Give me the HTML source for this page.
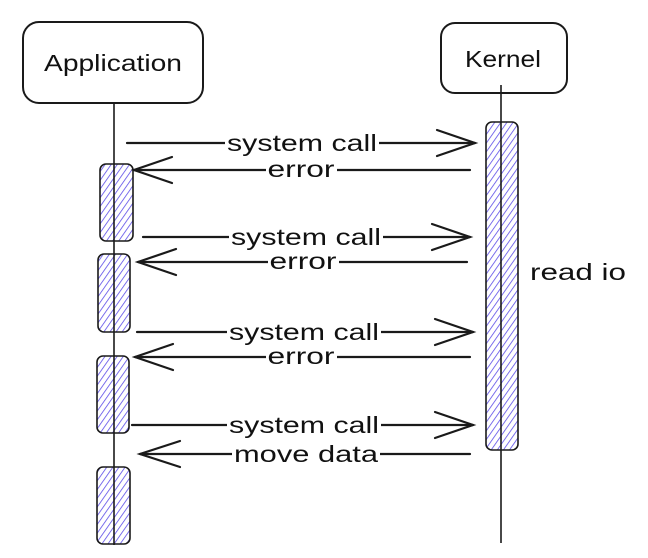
<!DOCTYPE html>
<html><head><meta charset="utf-8"><style>
html,body{margin:0;padding:0;background:#fff;width:648px;height:558px;overflow:hidden}
svg text{font-family:"Liberation Sans",sans-serif;fill:#111}
</style></head><body>
<svg width="648" height="558" viewBox="0 0 648 558" xmlns="http://www.w3.org/2000/svg">
<defs>
<pattern id="h" patternUnits="userSpaceOnUse" width="5" height="5" patternTransform="rotate(35)">
<rect width="5" height="5" fill="#fff"/>
<line x1="0" y1="0" x2="0" y2="5" stroke="#5b4ce8" stroke-width="1.6"/>
</pattern>
</defs>
<g fill="none" stroke="#1a1a1a" stroke-width="2">
<rect x="23" y="22" width="180" height="81" rx="16"/>
<rect x="441" y="23" width="126" height="70" rx="14"/>
</g>
<text x="113" y="71" font-size="23" text-anchor="middle" textLength="138" lengthAdjust="spacingAndGlyphs">Application</text>
<text x="503" y="67" font-size="23" text-anchor="middle" textLength="76" lengthAdjust="spacingAndGlyphs">Kernel</text>
<g stroke="#1a1a1a" stroke-width="1.6" fill="url(#h)">
<rect x="486" y="122" width="32" height="328" rx="6"/>
<rect x="100" y="164" width="33" height="77" rx="6"/>
<rect x="98" y="254" width="32" height="78" rx="6"/>
<rect x="97" y="356" width="32" height="77" rx="6"/>
<rect x="97" y="467" width="33" height="77" rx="6"/>
</g>
<g stroke="#1a1a1a" stroke-width="1.6">
<line x1="114" y1="103" x2="114" y2="545"/>
<line x1="501" y1="85" x2="501" y2="543"/>
</g>
<g stroke="#1a1a1a" stroke-width="2.2" fill="none" stroke-linecap="round">
<line x1="127" y1="143" x2="475" y2="143"/><polyline points="437,130 475,143 437,156"/>
<line x1="470" y1="170" x2="134" y2="170"/><polyline points="172,157 134,170 172,183"/>
<line x1="143" y1="237" x2="470" y2="237"/><polyline points="432,224 470,237 432,250"/>
<line x1="467" y1="262" x2="138" y2="262"/><polyline points="176,249 138,262 176,275"/>
<line x1="137" y1="332" x2="473" y2="332"/><polyline points="435,319 473,332 435,345"/>
<line x1="470" y1="357" x2="135" y2="357"/><polyline points="173,344 135,357 173,370"/>
<line x1="132" y1="425" x2="473" y2="425"/><polyline points="435,412 473,425 435,438"/>
<line x1="470" y1="454" x2="140" y2="454"/><polyline points="180,441 140,454 180,467"/>
</g>
<g font-size="23" text-anchor="middle">
<rect x="225" y="129" width="154" height="24" fill="#fff"/>
<text x="302" y="151" textLength="150" lengthAdjust="spacingAndGlyphs">system call</text>
<rect x="266" y="160" width="71" height="20" fill="#fff"/>
<text x="301" y="177" textLength="67" lengthAdjust="spacingAndGlyphs">error</text>
<rect x="229" y="223" width="154" height="24" fill="#fff"/>
<text x="306" y="245" textLength="150" lengthAdjust="spacingAndGlyphs">system call</text>
<rect x="268" y="252" width="71" height="20" fill="#fff"/>
<text x="303" y="269" textLength="67" lengthAdjust="spacingAndGlyphs">error</text>
<rect x="227" y="318" width="154" height="24" fill="#fff"/>
<text x="304" y="340" textLength="150" lengthAdjust="spacingAndGlyphs">system call</text>
<rect x="266" y="347" width="71" height="20" fill="#fff"/>
<text x="301" y="364" textLength="67" lengthAdjust="spacingAndGlyphs">error</text>
<rect x="227" y="411" width="154" height="24" fill="#fff"/>
<text x="304" y="433" textLength="150" lengthAdjust="spacingAndGlyphs">system call</text>
<rect x="232" y="444" width="148" height="22" fill="#fff"/>
<text x="306" y="462" textLength="144" lengthAdjust="spacingAndGlyphs">move data</text>
</g>
<text x="530" y="280" font-size="23" textLength="96" lengthAdjust="spacingAndGlyphs">read io</text>
</svg>
</body></html>
